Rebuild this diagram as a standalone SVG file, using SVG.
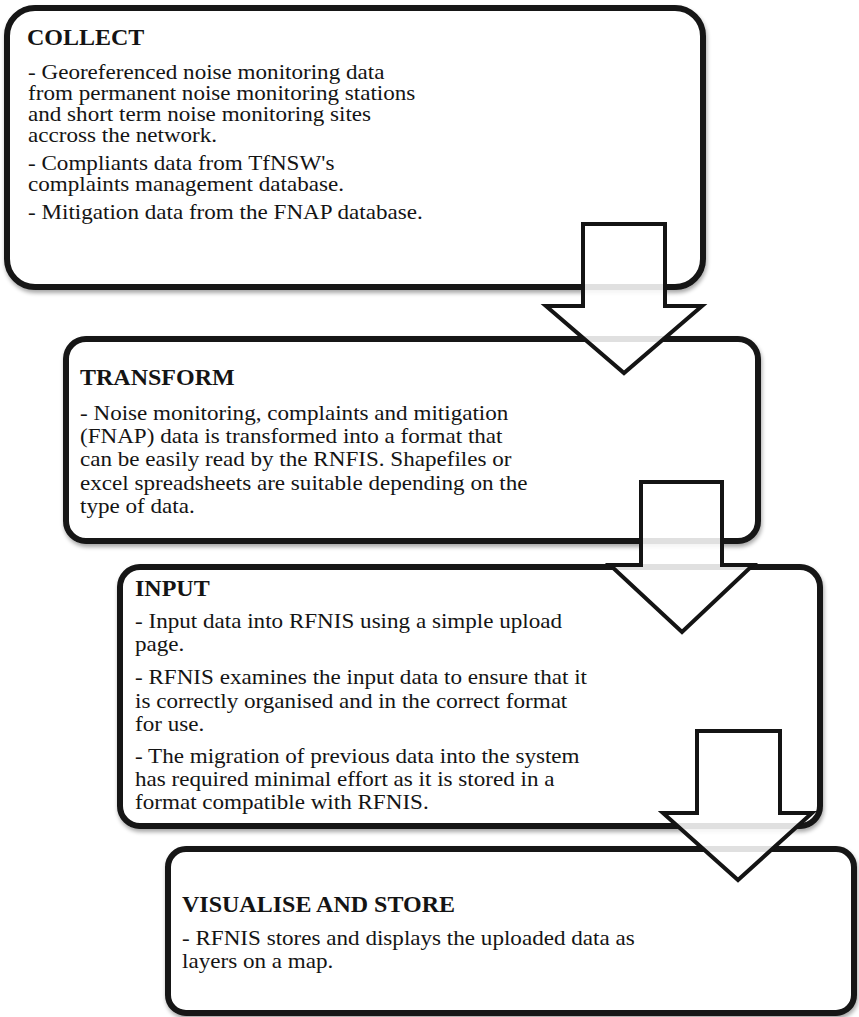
<svg xmlns="http://www.w3.org/2000/svg" width="859" height="1017" viewBox="0 0 859 1017">
  <defs>
    <filter id="shadow" x="-5%" y="-5%" width="110%" height="115%">
      <feGaussianBlur in="SourceAlpha" stdDeviation="2"/>
      <feOffset dx="1" dy="3" result="b"/>
      <feComponentTransfer><feFuncA type="linear" slope="0.35"/></feComponentTransfer>
      <feMerge><feMergeNode/><feMergeNode in="SourceGraphic"/></feMerge>
    </filter>
    <style>
      .box { fill: #ffffff; stroke: #141414; stroke-width: 6; }
      .arrow { fill: #ffffff; fill-opacity: 0.87; stroke: #141414; stroke-width: 4; stroke-linejoin: miter; }
      .title { font-family: "Liberation Serif", "Times New Roman", serif; font-weight: bold; font-size: 24px; fill: #141414; }
      .body { font-family: "Liberation Serif", "Times New Roman", serif; font-size: 20px; fill: #141414; }
    </style>
  </defs>
  <rect width="859" height="1017" fill="#ffffff"/>

  <!-- Stage 1 -->
  <g id="collect">
    <rect class="box" x="7" y="8" width="696" height="279" rx="28" filter="url(#shadow)"/>
    <text class="title" x="27" y="45">COLLECT</text>
    <text class="body" transform="translate(28,0) scale(1.155,1)">
      <tspan x="0" y="79">- Georeferenced noise monitoring data</tspan>
      <tspan x="0" y="100">from permanent noise monitoring stations</tspan>
      <tspan x="0" y="121">and short term noise monitoring sites</tspan>
      <tspan x="0" y="142">accross the network.</tspan>
      <tspan x="0" y="170">- Compliants data from TfNSW's</tspan>
      <tspan x="0" y="191">complaints management database.</tspan>
      <tspan x="0" y="219">- Mitigation data from the FNAP database.</tspan>
    </text>
  </g>

  <!-- Stage 2 -->
  <g id="transform">
    <rect class="box" x="66" y="339" width="692" height="202" rx="20" filter="url(#shadow)"/>
    <text class="title" x="80" y="385">TRANSFORM</text>
    <text class="body" transform="translate(80,0) scale(1.155,1)">
      <tspan x="0" y="420">- Noise monitoring, complaints and mitigation</tspan>
      <tspan x="0" y="443">(FNAP) data is transformed into a format that</tspan>
      <tspan x="0" y="466.5">can be easily read by the RNFIS. Shapefiles or</tspan>
      <tspan x="0" y="490">excel spreadsheets are suitable depending on the</tspan>
      <tspan x="0" y="513">type of data.</tspan>
    </text>
  </g>

  <!-- Stage 3 -->
  <g id="input">
    <rect class="box" x="120" y="567" width="700" height="259" rx="20" filter="url(#shadow)"/>
    <text class="title" x="135" y="596">INPUT</text>
    <text class="body" transform="translate(135,0) scale(1.155,1)">
      <tspan x="0" y="628">- Input data into RFNIS using a simple upload</tspan>
      <tspan x="0" y="651.5">page.</tspan>
      <tspan x="0" y="684.5">- RFNIS examines the input data to ensure that it</tspan>
      <tspan x="0" y="708">is correctly organised and in the correct format</tspan>
      <tspan x="0" y="731">for use.</tspan>
      <tspan x="0" y="763">- The migration of previous data into the system</tspan>
      <tspan x="0" y="786.5">has required minimal effort as  it is stored in a</tspan>
      <tspan x="0" y="809.5">format compatible with RFNIS.</tspan>
    </text>
  </g>

  <!-- Stage 4 -->
  <g id="visualise">
    <rect class="box" x="168" y="849" width="686" height="164" rx="18" filter="url(#shadow)"/>
    <text class="title" x="182" y="912">VISUALISE AND STORE</text>
    <text class="body" transform="translate(182,0) scale(1.155,1)">
      <tspan x="0" y="945">- RFNIS stores and displays the uploaded data as</tspan>
      <tspan x="0" y="968">layers on a map.</tspan>
    </text>
  </g>

  <!-- Block arrows between stages -->
  <g id="connectors">
    <path class="arrow" d="M583,224 H665 V306 H702 L624,373 L546,306 H583 Z"/>
    <path class="arrow" d="M641,482 H722 V565 H753 L682,632 L610,565 H641 Z"/>
    <path class="arrow" d="M697,731 H780 V813 H812 L738,880 L663,813 H697 Z"/>
  </g>
</svg>
